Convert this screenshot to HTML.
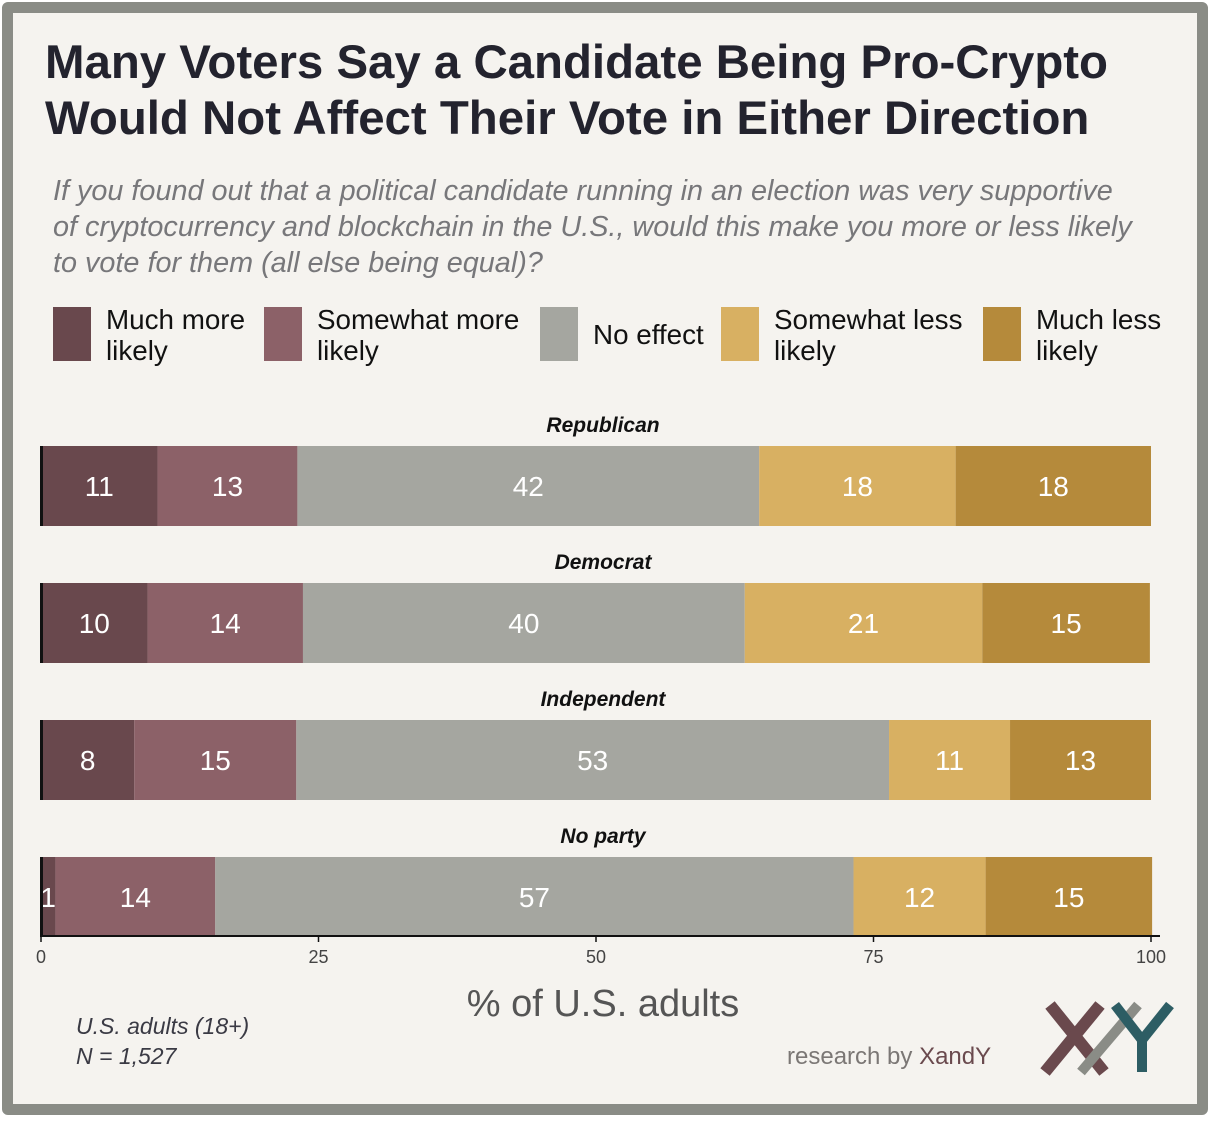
<!DOCTYPE html>
<html><head><meta charset="utf-8"><style>
html,body{margin:0;padding:0;background:#fff}
#frame{position:absolute;left:2px;top:2px;width:1184px;height:1091px;border:11px solid #8a8c86;border-radius:6px;background:#f5f3ef}
.t{position:absolute;font-family:"Liberation Sans",sans-serif;white-space:nowrap}
</style></head><body>
<div id="frame"></div>
<div class="t" style="left:45px;top:35px;font-size:47.4px;font-weight:bold;color:#23232e;line-height:56px">Many Voters Say a Candidate Being Pro-Crypto<br>Would Not Affect Their Vote in Either Direction</div>
<div class="t" style="left:53px;top:173px;font-size:28.8px;font-style:italic;color:#77777a;line-height:36px">If you found out that a political candidate running in an election was very supportive<br>of cryptocurrency and blockchain in the U.S., would this make you more or less likely<br>to vote for them (all else being equal)?</div>
<svg id="chart" width="1210" height="1122" style="position:absolute;left:0;top:0" font-family="Liberation Sans, sans-serif"></svg>
<div class="t" style="left:76px;top:1011px;font-size:23px;font-style:italic;color:#3a3a44;line-height:30px">U.S. adults (18+)<br>N = 1,527</div>
<div class="t" style="left:787px;top:1043px;font-size:24px;color:#7b7775">research by <span style="color:#6a4a4e">XandY</span></div>
<svg width="1210" height="1122" style="position:absolute;left:0;top:0">
<line x1="1050" y1="1005" x2="1104" y2="1072" stroke="#6a494d" stroke-width="12"/>
<line x1="1081" y1="1072" x2="1138" y2="1005" stroke="#8a8c86" stroke-width="10"/>
<line x1="1100" y1="1005" x2="1045" y2="1072" stroke="#6a494d" stroke-width="12"/>
<line x1="1115" y1="1005" x2="1142" y2="1040" stroke="#2d5d64" stroke-width="10"/>
<line x1="1170" y1="1005" x2="1142" y2="1040" stroke="#2d5d64" stroke-width="10"/>
<line x1="1142" y1="1038" x2="1142" y2="1072" stroke="#2d5d64" stroke-width="10"/>
</svg>
<script>
const categories=["Republican","Democrat","Independent","No party"];
const seriesNames=["Much more likely","Somewhat more likely","No effect","Somewhat less likely","Much less likely"];
const muchMore=[10.5,9.6,8.4,1.3];
const somewhatMore=[12.6,14.0,14.6,14.4];
const noEffect=[41.6,39.8,53.4,57.5];
const somewhatLess=[17.7,21.4,10.9,11.9];
const muchLess=[17.6,15.1,12.7,15.0];
const labelMuchMore=[11,10,8,1];
const labelSomewhatMore=[13,14,15,14];
const labelNoEffect=[42,40,53,57];
const labelSomewhatLess=[18,21,11,12];
const labelMuchLess=[18,15,13,15];
const ticks=[0,25,50,75,100];
const colors=["#69484d","#8c6168","#a5a6a0","#d8b062","#b58a3b"];
const series=[muchMore,somewhatMore,noEffect,somewhatLess,muchLess];
const labels=[labelMuchMore,labelSomewhatMore,labelNoEffect,labelSomewhatLess,labelMuchLess];
const svg=document.getElementById('chart');
const NS='http://www.w3.org/2000/svg';
const x=v=>41+v*11.1;
const rowY=i=>446+i*137;
function mk(t,a,p){const e=document.createElementNS(NS,t);for(const k in a)e.setAttribute(k,a[k]);(p||svg).appendChild(e);return e;}
const legX=[53,264,540,721,983];
const legTxt=[["Much more","likely"],["Somewhat more","likely"],["No effect"],["Somewhat less","likely"],["Much less","likely"]];
seriesNames.forEach((n,j)=>{
  const g=mk('g',{});
  
  
  mk('rect',{x:legX[j],y:307,width:38,height:54,fill:colors[j]},g);
  const L=legTxt[j];
  L.forEach((s,k)=>{const t=mk('text',{x:legX[j]+53,y:L.length==1?344:329+k*31,'font-size':27.8,fill:'#111'},g);t.textContent=s;});
});
categories.forEach((c,i)=>{
  const y=rowY(i);
  const h=mk('text',{x:603,y:y-14,'text-anchor':'middle','font-size':21,'font-weight':'bold','font-style':'italic',fill:'#111'});
  
  
  h.textContent=c;
  let acc=0;
  series.forEach((s,j)=>{
    const v=s[i];
    const r=mk('rect',{x:x(acc),y:y,width:x(acc+v)-x(acc),height:80,fill:colors[j]});
    
    
    const t=mk('text',{x:(x(acc)+x(acc+v))/2,y:y+50,'text-anchor':'middle','font-size':28,fill:'#fff'});
    
    
    t.textContent=labels[j][i];
    acc+=v;
  });
  const b=mk('rect',{x:40,y:y,width:3,height:80,fill:'#111'});
  
  
});
const ax=mk('line',{x1:40,y1:936,x2:1160,y2:936,stroke:'#111','stroke-width':2});


ticks.forEach(v=>{
  mk('line',{x1:x(v),y1:936,x2:x(v),y2:942,stroke:'#111','stroke-width':1.5});
  const t=mk('text',{x:x(v),y:963,'text-anchor':'middle','font-size':18,fill:'#444'});
  
  
  t.textContent=v;
});
const xt=mk('text',{x:603,y:1016,'text-anchor':'middle','font-size':38,fill:'#555'});


xt.textContent='% of U.S. adults';
</script>
</body></html>
